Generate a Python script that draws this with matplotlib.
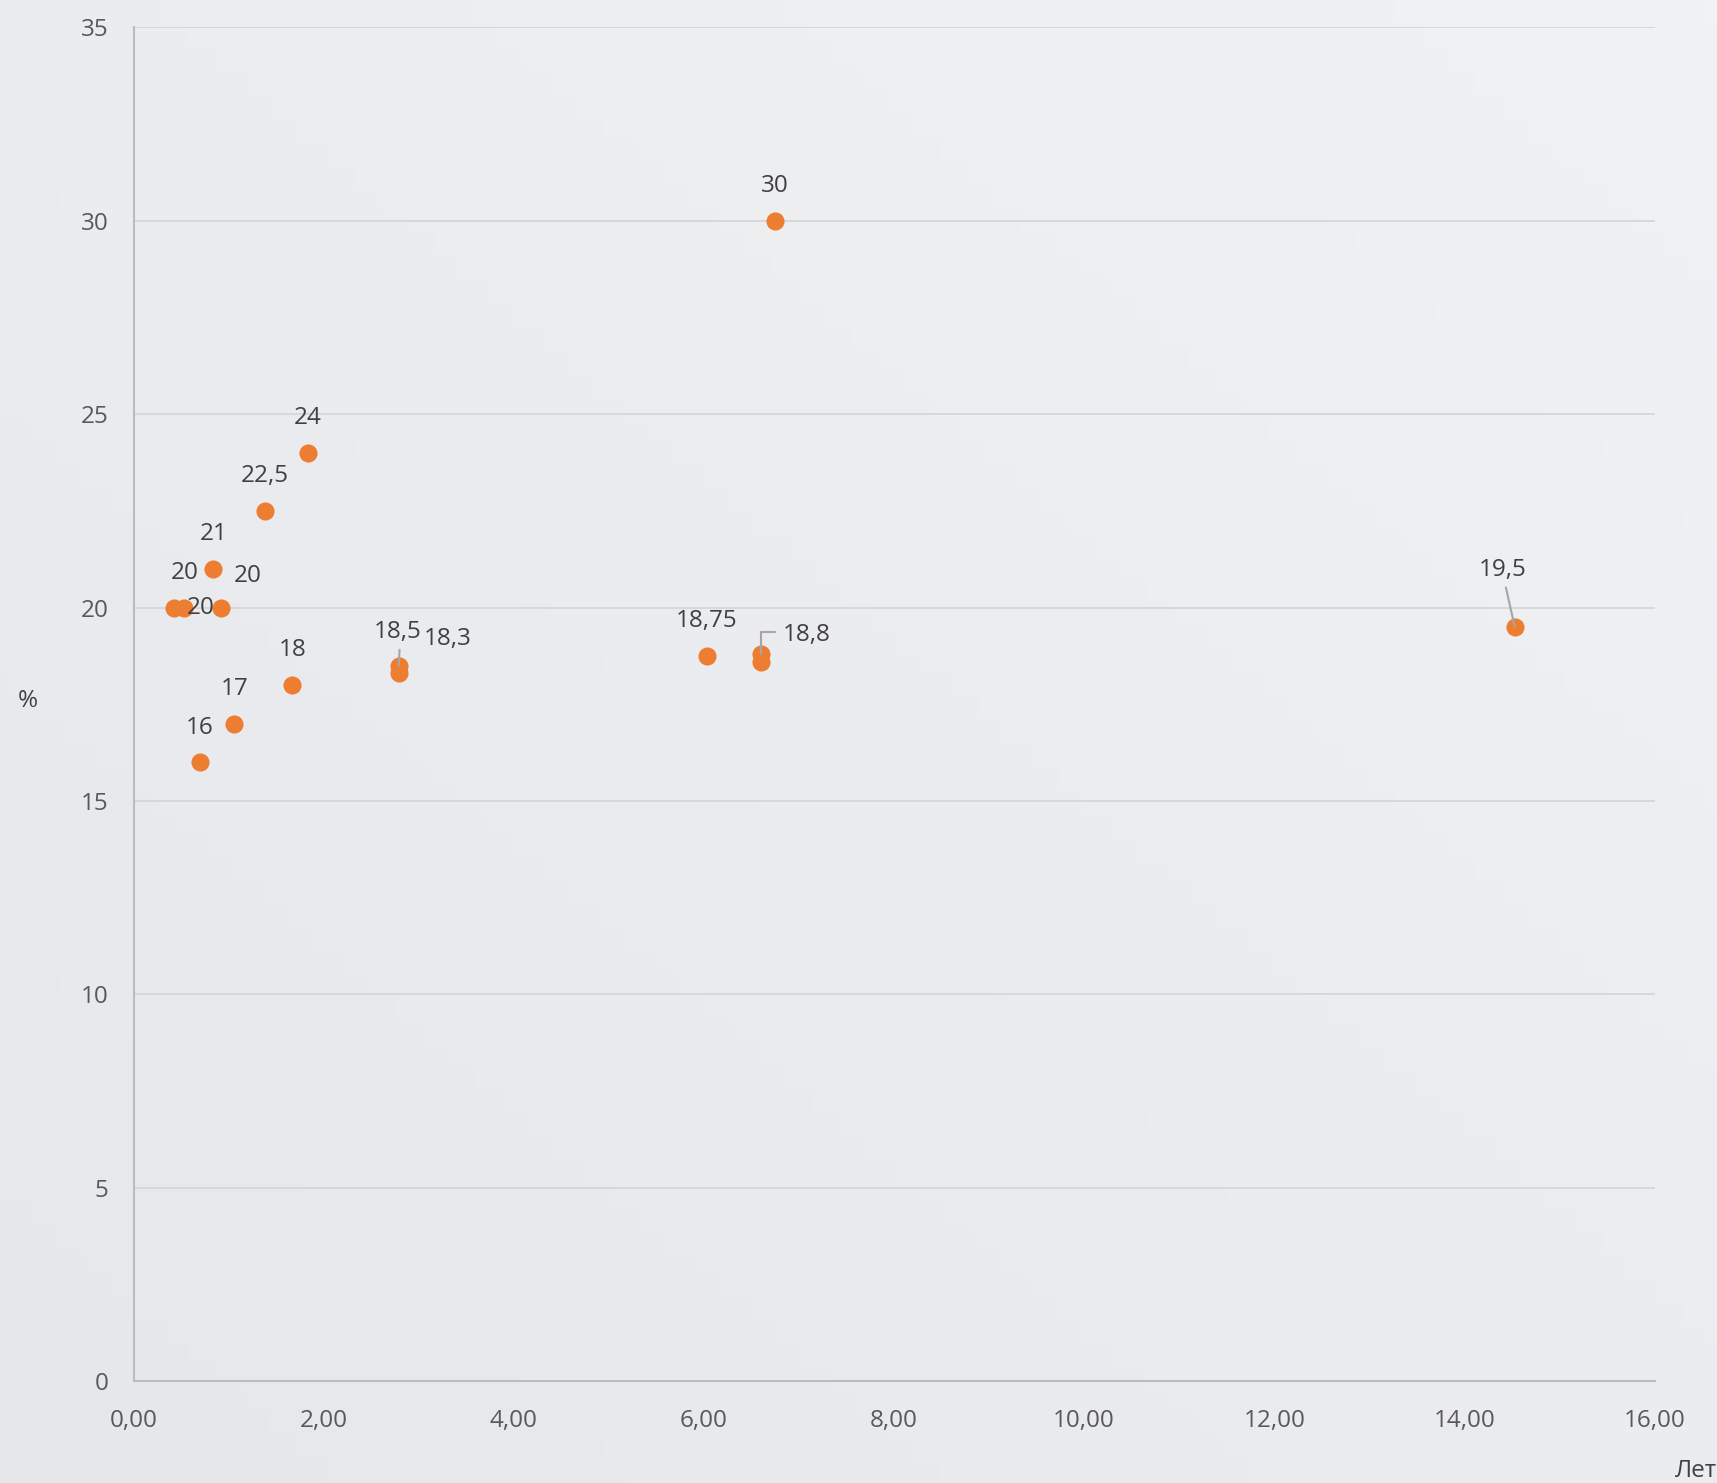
import matplotlib
matplotlib.use("Agg")
import matplotlib.pyplot as plt
import numpy as np
from matplotlib.colors import LinearSegmentedColormap

# ---- data ----
years = [0.42, 0.53, 0.92, 0.84, 1.38, 1.83, 0.70, 1.06, 1.67, 2.79, 2.79, 6.03, 6.60, 6.60, 6.75, 14.53]
rates = [20, 20, 20, 21, 22.5, 24, 16, 17, 18, 18.5, 18.3, 18.75, 18.8, 18.6, 30, 19.5]
labels = ["20", "20", "20", "21", "22,5", "24", "16", "17", "18", "18,5", "18,3", "18,75", "18,8", "", "30", "19,5"]
x_ticks = [0, 2, 4, 6, 8, 10, 12, 14, 16]
y_ticks = [0, 5, 10, 15, 20, 25, 30, 35]

# label offsets (points) and leader style
offsets = [(8, 25), (12, 0), (19, 23), (0, 25), (0, 25), (0, 25), (0, 25), (0, 25), (0, 25),
           (-1, 24), (35, 25), (0, 25), (16, 14), (0, 0), (0, 25), (-9, 41)]
leaders = [None] * 9 + ["straight", None, None, "elbow", None, None, "straight"]

plt.rcParams['font.family'] = ['Open Sans', 'DejaVu Sans']

W, H = 1717, 1483
fig = plt.figure(figsize=(W / 100, H / 100), dpi=100)
fig.patch.set_facecolor('#eaecef')

# subtle background gradient
bg = fig.add_axes([0, 0, 1, 1], zorder=-10)
grad = np.linspace(0, 1, 256).reshape(1, -1)
g = np.outer(np.linspace(1, 0, 64), np.ones(256)) * 0.5 + grad * 0.5
cm = LinearSegmentedColormap.from_list('bg', ['#e5e7eb', '#f1f2f4'])
bg.imshow(g, aspect='auto', cmap=cm, extent=[0, 1, 0, 1])
bg.axis('off')

ax = fig.add_axes([0.0778, 0.0687, 0.9636 - 0.0778, 0.9815 - 0.0687])
ax.set_facecolor('none')
ax.set_xlim(0, 16)
ax.set_ylim(0, 35)
ax.set_xticks(x_ticks)
ax.set_yticks(y_ticks)
ax.set_xticklabels([f"{v:.2f}".replace('.', ',') for v in x_ticks])
ax.set_yticklabels([str(v) for v in y_ticks])
ax.tick_params(length=0, labelsize=17.5, labelcolor='#595959')
ax.tick_params(axis='x', pad=20)
ax.tick_params(axis='y', pad=18)
ax.grid(axis='y', color='#d4d6d9', linewidth=1.3)
ax.set_axisbelow(True)
for s in ['top', 'right']:
    ax.spines[s].set_visible(False)
for s in ['left', 'bottom']:
    ax.spines[s].set_color('#bcbcbc')
    ax.spines[s].set_linewidth(1.5)

ax.scatter(years, rates, s=170, color='#ED7D31', zorder=3, linewidths=0)

for x, y, lab, off, ld in zip(years, rates, labels, offsets, leaders):
    if not lab:
        continue
    kw = {}
    if ld == "straight":
        kw['arrowprops'] = dict(arrowstyle='-', color='#a6a6a6', lw=1.5, shrinkA=2, shrinkB=0,
                                relpos=(0.55, 0))
    elif ld == "elbow":
        kw['arrowprops'] = dict(arrowstyle='-', color='#a6a6a6', lw=1.5, shrinkA=4, shrinkB=0,
                                relpos=(0, 0.6),
                                connectionstyle='angle,angleA=0,angleB=90,rad=0')
    ax.annotate(lab, (x, y), xytext=off, textcoords='offset points',
                ha='center' if ld != "elbow" else 'left',
                va='center', fontsize=17.5, color='#404040', zorder=4, **kw)

fig.text(0.016, 0.527, '%', fontsize=17.5, color='#404040', ha='center', va='center')
fig.text(0.988, 0.0, 'Лет', fontsize=17.5, color='#404040', ha='center', va='bottom')

fig.savefig('out.png', dpi=100, facecolor=fig.get_facecolor())
